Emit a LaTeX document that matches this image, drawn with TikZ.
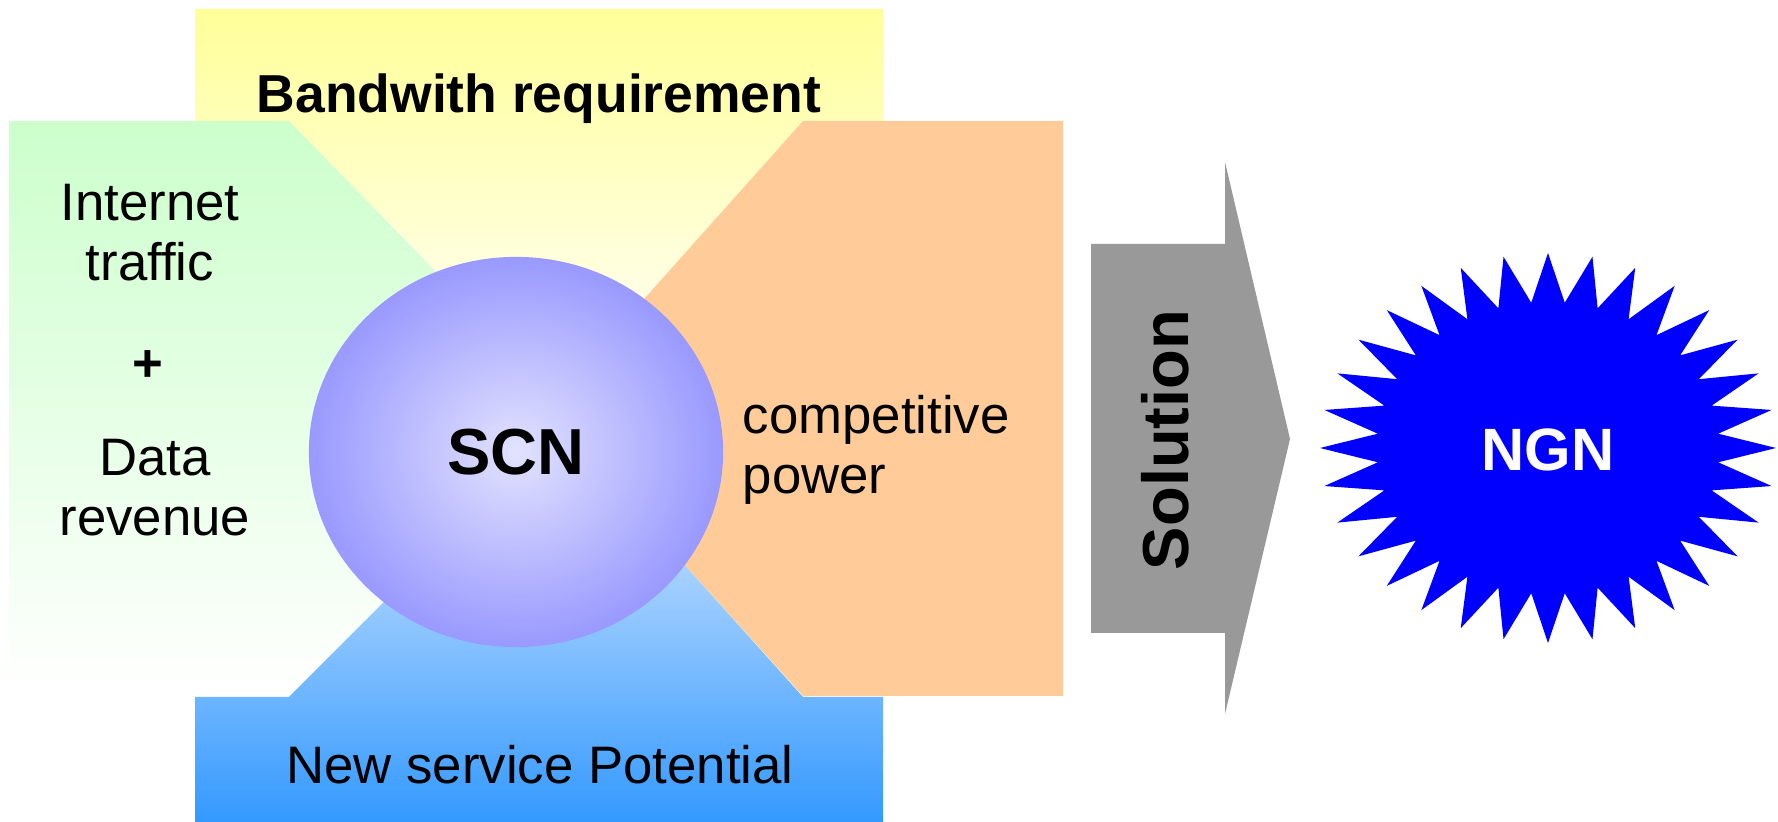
\documentclass[tikz,border=0pt]{standalone}
\usepackage{fontspec}
\setmainfont{Liberation Sans}
\usetikzlibrary{shapes.geometric}

\definecolor{bandyellow}{HTML}{FFFF99}
\definecolor{trafficgreen}{HTML}{CCFFCC}
\definecolor{powerorange}{HTML}{FFCC99}
\definecolor{serviceblue}{HTML}{3399FF}
\definecolor{servicelight}{HTML}{E8F1FF}
\definecolor{scnlight}{HTML}{E2E2FF}
\definecolor{scnedge}{HTML}{9999FF}
\definecolor{solgray}{HTML}{999999}
\definecolor{ngnblue}{HTML}{0000FF}

\tikzset{
  wedgetext/.style={font=\fontsize{15}{17}\selectfont, align=center, inner sep=0pt},
  bigtext/.style={font=\bfseries\fontsize{17}{20}\selectfont, inner sep=0pt},
}

\begin{document}
\begin{tikzpicture}[x=0.01cm, y=-0.01cm]
    \useasboundingbox (0,0) rectangle (1778,822);

    % Four wedges around the core
    \shade[top color=bandyellow, bottom color=white]
        (195,9) -- (883,9) -- (883,121) -- (803,121) -- (558,397) -- (289,121) -- (195,121) -- cycle;

    \shade[top color=trafficgreen, bottom color=white]
        (9,121) -- (289,121) -- (558,397) -- (560,426) -- (289,697) -- (9,697) -- cycle;

    \fill[powerorange]
        (803,121) -- (1063,121) -- (1063,696) -- (803,696) -- (545,410) -- cycle;

    \shade[top color=servicelight, bottom color=serviceblue]
        (195,822) -- (195,697) -- (289,697) -- (560,426) -- (803,697) -- (883,697) -- (883,822) -- cycle;

    % Core
    \node[ellipse, minimum width=4.14cm, minimum height=3.9cm, inner color=scnlight, outer color=scnedge,
          bigtext, font=\bfseries\fontsize{18.5}{22}\selectfont] (scn) at (516,452) {SCN};

    % Labels
    \node[wedgetext, font=\bfseries\fontsize{15.2}{17}\selectfont] (band) at (539,99) {Bandwith requirement};
    \node[wedgetext] (inet) at (150,233) {Internet\\traffic};
    \node[wedgetext, font=\bfseries\fontsize{15}{17}\selectfont] (plus) at (148,366) {+};
    \node[wedgetext] (data) at (155,488) {Data\\revenue};
    \node[wedgetext, align=left, anchor=west] (comp) at (742,450) {competitive\\power};
    \node[wedgetext] (newsvc) at (540,765) {New service Potential};

    % Solution arrow
    \fill[solgray] (1091,244) -- (1225,244) -- (1225,162) -- (1290,439) -- (1225,714) -- (1225,633) -- (1091,633) -- cycle;
    \node[bigtext, font=\bfseries\fontsize{18.5}{22}\selectfont, rotate=90] (sol) at (1165,440) {Solution};

    % NGN burst
    \fill[ngnblue] plot[domain=0:63, samples=64, variable=\k]
        ({1548 + ifthenelse(mod(\k,2)==0,228,171)*cos(\k*5.625)},
         {448 + ifthenelse(mod(\k,2)==0,195,146)*sin(\k*5.625)}) -- cycle;
    \node[bigtext, text=white] (ngn) at (1548,450) {NGN};
\end{tikzpicture}
\end{document}
